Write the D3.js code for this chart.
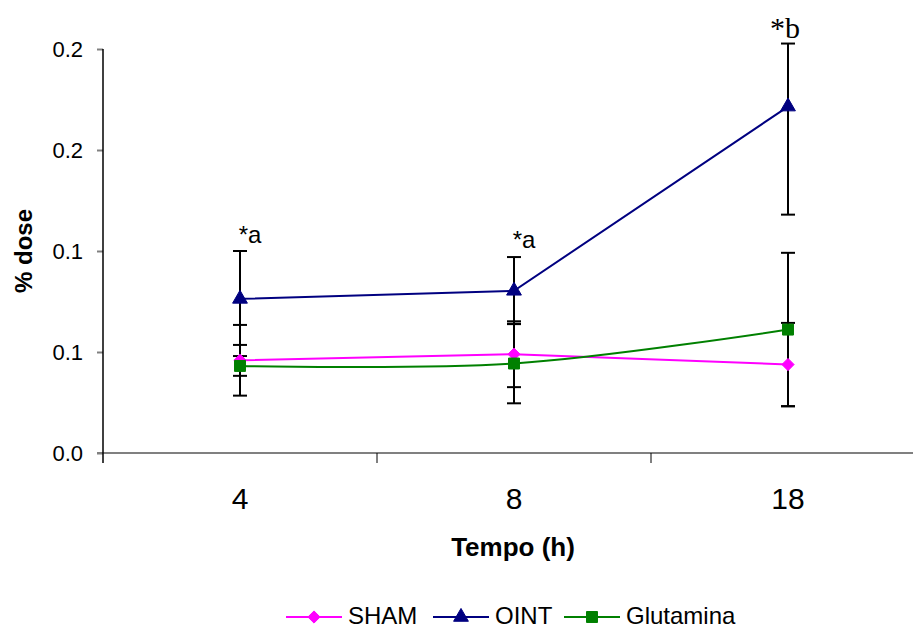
<!DOCTYPE html>
<html>
<head>
<meta charset="utf-8">
<script src="https://cdn.jsdelivr.net/npm/d3@7"></script>
<style>
  html, body { margin: 0; padding: 0; background: #fff; }
  svg { display: block; font-family: "Liberation Sans", Arial, sans-serif; }
</style>
</head>
<body>
<svg id="chart" width="913" height="630"></svg>
<script>
// ---- data ----
const categories = ["4", "8", "18"];
const shamMean = [0.0459, 0.0489, 0.0438];
const shamErr = [0.0175, 0.0163, 0.0206];
const ointMean = [0.0763, 0.0803, 0.1715];
const ointErrPlus = [0.0237, 0.0167, 0.0312];
const ointErrMinus = [0.0228, 0.0165, 0.0535];
const gluMean = [0.0431, 0.0443, 0.0611];
const gluErr = [0.0049, 0.0197, 0.0380];
const yTickValues = [0, 0.05, 0.1, 0.15, 0.2];
const yTickLabels = ["0.0", "0.1", "0.1", "0.2", "0.2"];
const annotations = ["*a", "*a", "*b"];
const seriesNames = ["SHAM", "OINT", "Glutamina"];

const series = [
  { name: seriesNames[0], color: "#FF00FF", shape: "diamond", curve: d3.curveLinear,
    values: shamMean, plus: shamErr, minus: shamErr },
  { name: seriesNames[1], color: "#000080", shape: "triangle", curve: d3.curveLinear,
    values: ointMean, plus: ointErrPlus, minus: ointErrMinus },
  { name: seriesNames[2], color: "#008000", shape: "square", curve: d3.curveCatmullRom.alpha(0),
    values: gluMean, plus: gluErr, minus: gluErr }
];

const svg = d3.select("#chart");
const x = d3.scaleBand().domain(categories).range([103, 925]);
const y = d3.scaleLinear().domain([0, 0.2]).range([453, 49]);
const cx = c => x(c) + x.bandwidth() / 2;

// ---- axes ----
svg.append("line").attr("x1", 97).attr("x2", 913).attr("y1", y(0)).attr("y2", y(0))
  .attr("stroke", "#808080").attr("stroke-width", 2);
const bounds = categories.map(c => x(c)).slice(1);
svg.selectAll(".xb").data(bounds).enter().append("line")
  .attr("x1", d => d).attr("x2", d => d).attr("y1", y(0)).attr("y2", y(0) + 10)
  .attr("stroke", "#000").attr("stroke-width", 1);
const yAxis = d3.axisLeft(y).tickValues(yTickValues)
  .tickFormat((d, i) => yTickLabels[i]).tickSize(6).tickPadding(14);
const gy = svg.append("g").attr("transform", `translate(103,0)`).call(yAxis);
gy.select(".domain").remove();
gy.selectAll(".tick line").attr("stroke", "#808080").attr("stroke-width", 2);
gy.selectAll(".tick text").attr("font-size", 22).attr("fill", "#000")
  .attr("font-family", "Liberation Sans, Arial, sans-serif");
svg.append("line").attr("x1", 103).attr("x2", 103).attr("y1", y(0.2)).attr("y2", y(0) + 10)
  .attr("stroke", "#000").attr("stroke-width", 1.5);

svg.selectAll(".xl").data(categories).enter().append("text")
  .attr("x", d => cx(d)).attr("y", 509)
  .attr("text-anchor", "middle").attr("font-size", 30).attr("fill", "#000")
  .text(d => d);

svg.append("text").attr("x", 513).attr("y", 556).attr("text-anchor", "middle")
  .attr("font-size", 26).attr("font-weight", "bold").text("Tempo (h)");
svg.append("text").attr("transform", "translate(32,251) rotate(-90)")
  .attr("text-anchor", "middle").attr("font-size", 24).attr("font-weight", "bold").text("% dose");

// ---- error bars ----
const capW = 7;
series.forEach(s => {
  const g = svg.append("g");
  categories.forEach((c, i) => {
    const hi = y(s.values[i] + s.plus[i]);
    const lo = y(s.values[i] - s.minus[i]);
    const xc = cx(c);
    g.append("line").attr("x1", xc).attr("x2", xc).attr("y1", hi).attr("y2", lo)
      .attr("stroke", "#000").attr("stroke-width", 2);
    [hi, lo].forEach(v => g.append("line").attr("x1", xc - capW).attr("x2", xc + capW)
      .attr("y1", v).attr("y2", v).attr("stroke", "#000").attr("stroke-width", 2));
  });
});

// ---- lines ----
series.forEach(s => {
  const line = d3.line().x((d, i) => cx(categories[i])).y(d => y(d)).curve(s.curve);
  svg.append("path").datum(s.values).attr("d", line)
    .attr("fill", "none").attr("stroke", s.color).attr("stroke-width", 2);
});

// ---- markers ----
const symbolOf = { diamond: d3.symbolDiamond2 || d3.symbolDiamond, triangle: d3.symbolTriangle, square: d3.symbolSquare };
const sizeOf = { diamond: 95, triangle: 95, square: 120 };
function drawMarker(g, s, xx, yy) {
  const sy = d3.symbol().type(symbolOf[s.shape]).size(sizeOf[s.shape]);
  g.append("path").attr("d", sy()).attr("transform", `translate(${xx},${yy})`)
    .attr("fill", s.color).attr("stroke", s.color).attr("stroke-width", 1);
}
series.forEach(s => {
  const g = svg.append("g");
  s.values.forEach((v, i) => drawMarker(g, s, cx(categories[i]), y(v)));
});

// ---- annotations ----
const annDx = [10, 10, -3];
const annDy = [-8, -9, -6];
const annFont = ["Liberation Sans, Arial, sans-serif", "Liberation Sans, Arial, sans-serif", "'Liberation Serif', 'DejaVu Serif', serif"];
const annSize = [24, 24, 30];
annotations.forEach((t, i) => {
  const top = y(ointMean[i] + ointErrPlus[i]);
  svg.append("text").attr("x", cx(categories[i]) + annDx[i]).attr("y", top + annDy[i])
    .attr("text-anchor", "middle").attr("font-size", annSize[i])
    .style("font-family", annFont[i]).attr("fill", "#000").text(t);
});

// ---- legend ----
const legendX = [286, 433, 564];
const legendY = 617;
series.forEach((s, i) => {
  const g = svg.append("g").attr("transform", `translate(${legendX[i]},${legendY})`);
  g.append("line").attr("x1", 0).attr("x2", 56).attr("y1", 0).attr("y2", 0)
    .attr("stroke", s.color).attr("stroke-width", 2);
  drawMarker(g, s, 28, 0);
  g.append("text").attr("x", 62).attr("y", 7).attr("font-size", 24).attr("fill", "#000").text(s.name);
});
</script>
</body>
</html>
